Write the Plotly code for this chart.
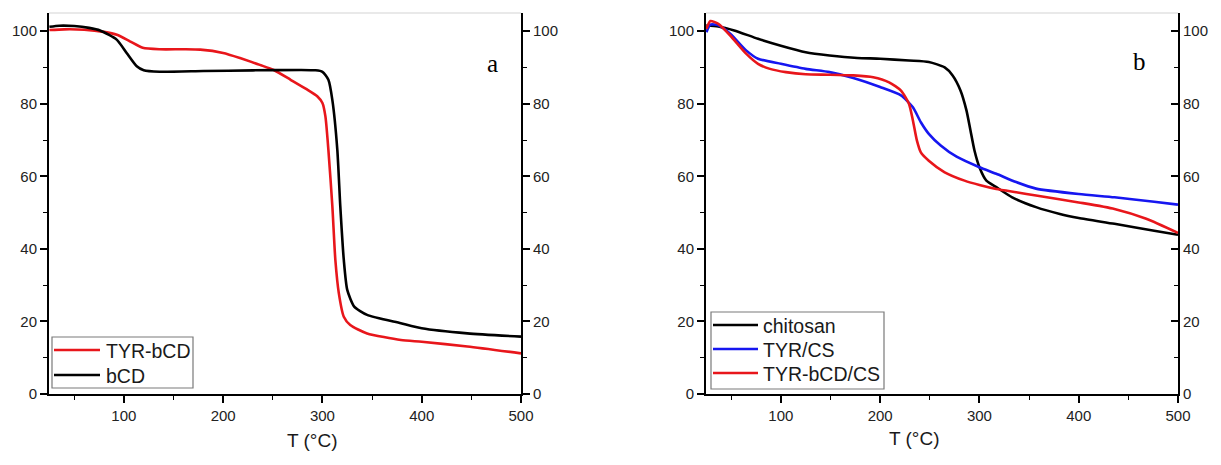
import plotly.graph_objects as go

# ---------------- Panel a data ----------------
T_tyr_bcd = [25, 40, 60, 80, 93, 106, 119, 136, 160, 177, 200, 217, 237, 251, 268, 284, 295, 300,
             303, 306, 310, 313, 316.5, 321.5, 328, 345, 379, 400, 446, 500]
W_tyr_bcd = [100.3, 100.5, 100.4, 99.8, 99.0, 97.2, 95.4, 95.0, 95.0, 94.9, 94.0, 92.6, 90.7, 89.3,
             86.6, 84.0, 82.0, 80.2, 76.5, 67.3, 51.7, 37.0, 27.8, 21.3, 19.0, 16.7, 14.9, 14.4, 13.1, 11.2]

T_bcd = [25, 35, 50, 65, 76, 93, 103, 113, 120, 136, 180, 230, 278, 293, 300, 306, 310,
         315, 318, 321.5, 325, 332, 345, 379, 400, 446, 500]
W_bcd = [101.2, 101.5, 101.4, 100.9, 100.2, 97.6, 93.9, 90.3, 89.2, 88.8, 89.0, 89.2, 89.3, 89.2,
         88.8, 86.6, 81.0, 67.3, 51.7, 37.0, 28.7, 24.1, 21.8, 19.5, 18.1, 16.7, 15.8]

# ---------------- Panel b data ----------------
T_chitosan = [25, 37, 53, 77, 100, 125, 149, 177, 200, 229, 249, 265, 273, 281, 287, 291, 295,
              300, 307, 317, 333, 357, 381, 400, 436, 476, 500]
W_chitosan = [101.6, 101.3, 100.2, 97.9, 96.0, 94.2, 93.3, 92.6, 92.4, 91.9, 91.5, 90.0, 87.8,
              83.6, 78.1, 72.6, 67.1, 62.5, 58.8, 57.0, 54.2, 51.5, 49.6, 48.5, 46.9, 45.0, 43.9]

T_tyr_cs = [25, 29, 37, 49, 65, 77, 100, 125, 149, 173, 200, 221, 233, 241, 249, 261, 277,
            300, 317, 337, 357, 400, 436, 476, 500]
W_tyr_cs = [99.7, 101.8, 101.6, 99.3, 94.7, 92.4, 91.0, 89.6, 88.7, 87.1, 84.6, 82.3, 79.0,
            74.9, 71.7, 68.5, 65.4, 62.5, 60.7, 58.4, 56.6, 55.1, 54.2, 53.0, 52.2]

T_tyr_bcd_cs = [25, 29, 37, 49, 65, 77, 89, 105, 125, 149, 173, 193, 209, 221, 229, 233, 237,
                241, 249, 265, 285, 300, 317, 337, 357, 400, 436, 468, 500]
W_tyr_bcd_cs = [100.6, 102.8, 102.0, 98.8, 93.8, 91.0, 89.6, 88.7, 88.1, 88.0, 87.8, 87.3, 85.9,
                83.6, 80.0, 75.4, 69.9, 66.6, 64.3, 61.1, 58.8, 57.6, 56.5, 55.6, 54.7, 52.8, 51.0,
                48.3, 44.4]

LEGEND_A = ["TYR-bCD", "bCD"]
LEGEND_B = ["chitosan", "TYR/CS", "TYR-bCD/CS"]

RED = "#e8161b"
BLUE = "#1616f0"
BLACK = "#000000"
FONT = "Liberation Sans"

fig = go.Figure()

def add(x, y, name, color, xa, ya):
    fig.add_trace(go.Scatter(
        x=x, y=y, name=name, mode="lines", xaxis=xa, yaxis=ya, showlegend=False,
        line=dict(color=color, width=2.6, shape="spline", smoothing=0.6)))

def add_ghost(x, y, xa, ya):
    # invisible copy so that the mirrored right-hand axis is rendered
    fig.add_trace(go.Scatter(x=x, y=y, mode="lines", xaxis=xa, yaxis=ya, showlegend=False,
                             hoverinfo="skip", line=dict(color="rgba(0,0,0,0)", width=0)))

add(T_tyr_bcd, W_tyr_bcd, LEGEND_A[0], RED, "x", "y")
add(T_bcd, W_bcd, LEGEND_A[1], BLACK, "x", "y")
add(T_chitosan, W_chitosan, LEGEND_B[0], BLACK, "x2", "y3")
add(T_tyr_cs, W_tyr_cs, LEGEND_B[1], BLUE, "x2", "y3")
add(T_tyr_bcd_cs, W_tyr_bcd_cs, LEGEND_B[2], RED, "x2", "y3")
add_ghost(T_bcd, W_bcd, "x", "y2")
add_ghost(T_chitosan, W_chitosan, "x2", "y4")

W, H = 1221, 465
xa_dom = [49 / W, 521 / W]
xb_dom = [706 / W, 1178 / W]
y_dom = [1 - 394 / H, 1 - 13 / H]

tickfont = dict(family=FONT, size=15, color="#222222")

def xaxis(dom, anchor):
    return dict(domain=dom, anchor=anchor, range=[24.6, 500], showline=True, linecolor="black",
                linewidth=2, ticks="outside", ticklen=7, tickwidth=1.6, tickcolor="black",
                tick0=0, dtick=100, showgrid=False, zeroline=False, tickfont=tickfont,
                automargin=False,
                minor=dict(ticks="outside", ticklen=4, tickwidth=1.4, tickcolor="black",
                           dtick=50, tick0=0, showgrid=False))

def yaxis(anchor, side="left", overlaying=None, ticks="outside"):
    d = dict(domain=y_dom, anchor=anchor, range=[0, 105], side=side, showline=True,
             linecolor="black", linewidth=2, ticks=ticks, ticklen=7, tickwidth=1.6,
             tickcolor="black", tick0=0, dtick=20, showgrid=False, zeroline=False,
             tickfont=tickfont, automargin=False,
             minor=dict(ticks=ticks, ticklen=4, tickwidth=1.4, tickcolor="black",
                        dtick=10, tick0=0, showgrid=False))
    if overlaying:
        d["overlaying"] = overlaying
    return d

def px(x):
    return x / W

def py(y):
    return 1 - y / H

shapes = [
    dict(type="line", xref="paper", yref="paper", x0=xa_dom[0], x1=xa_dom[1],
         y0=y_dom[1], y1=y_dom[1], line=dict(color="#d4d4d4", width=1.2)),
    dict(type="line", xref="paper", yref="paper", x0=xb_dom[0], x1=xb_dom[1],
         y0=y_dom[1], y1=y_dom[1], line=dict(color="#d4d4d4", width=1.2)),
]
annotations = [
    dict(text="T (°C)", xref="paper", yref="paper", x=(xa_dom[0] + xa_dom[1]) / 2,
         y=py(453), showarrow=False, font=dict(family=FONT, size=19, color="#1a1a1a")),
    dict(text="T (°C)", xref="paper", yref="paper", x=(xb_dom[0] + xb_dom[1]) / 2,
         y=py(451), showarrow=False, font=dict(family=FONT, size=19, color="#1a1a1a")),
    dict(text="a", xref="paper", yref="paper", x=px(492), y=py(48), showarrow=False,
         font=dict(family="Liberation Serif", size=25, color="black")),
    dict(text="b", xref="paper", yref="paper", x=px(1148), y=py(46), showarrow=False,
         font=dict(family="Liberation Serif", size=25, color="black")),
]

# hand-built legends (box, line swatches, labels) to match the reference spacing
def legend(box, rows, names, colors, line_x0, line_x1, text_x):
    x0, y0, x1, y1 = box
    shapes.append(dict(type="rect", xref="paper", yref="paper", x0=px(x0), x1=px(x1),
                       y0=py(y1), y1=py(y0), line=dict(color="#7a7a7a", width=1.2),
                       fillcolor="white", layer="above"))
    for r, n, c in zip(rows, names, colors):
        shapes.append(dict(type="line", xref="paper", yref="paper", x0=px(line_x0),
                           x1=px(line_x1), y0=py(r), y1=py(r), layer="above",
                           line=dict(color=c, width=2.6)))
        annotations.append(dict(text=n, xref="paper", yref="paper", x=px(text_x), y=py(r + 1),
                                xanchor="left", yanchor="middle", showarrow=False,
                                font=dict(family=FONT, size=19.5, color="#1a1a1a")))

legend((52, 337, 193, 388), [350, 375], LEGEND_A, [RED, BLACK], 54, 100, 104)
legend((711, 312, 884, 389), [325, 349, 373], LEGEND_B, [BLACK, BLUE, RED], 713, 758, 761)

fig.update_layout(
    width=W, height=H, margin=dict(l=0, r=0, t=0, b=0, autoexpand=False),
    paper_bgcolor="white", plot_bgcolor="white", showlegend=False,
    xaxis=xaxis(xa_dom, "y"),
    yaxis=yaxis("x"),
    yaxis2=yaxis("x", side="right", overlaying="y"),
    xaxis2=xaxis(xb_dom, "y3"),
    yaxis3=yaxis("x2"),
    yaxis4=yaxis("x2", side="right", overlaying="y3", ticks="inside"),
    shapes=shapes,
    annotations=annotations,
)

fig.write_html("out.html")
